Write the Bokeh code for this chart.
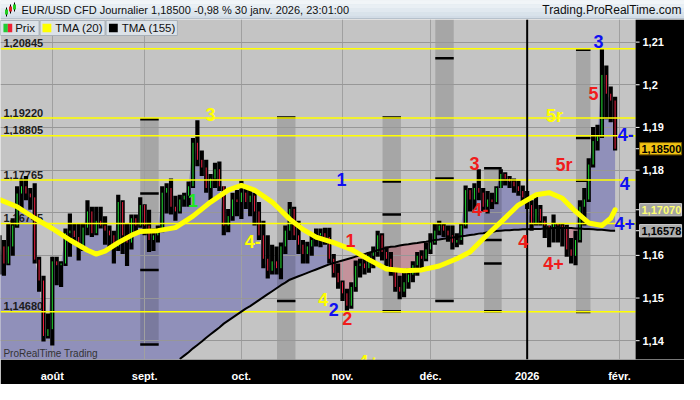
import json
from bokeh.plotting import figure
from bokeh.models import Range1d, FixedTicker, CustomJSTickFormatter
from bokeh.layouts import column
from bokeh.embed import file_html
from bokeh.resources import INLINE
from bokeh.core.properties import value

FONT = "Liberation Sans"

# ---------------- data ----------------
bar_index = list(range(-12, 129))   # 0 = 1 Aug 2025 (daily bars, weekdays)

opens = [1.1586, 1.1621, 1.1581, 1.1621, 1.1670, 1.1745, 1.1762, 1.1745, 1.1736, 1.1590, 1.1541, 1.1411, 1.1427,
         1.1586, 1.1577, 1.1581, 1.1652, 1.1658, 1.1643, 1.1621, 1.1665, 1.1703, 1.1652,
         1.1681, 1.1670, 1.1658, 1.1647, 1.1621, 1.1725, 1.1647, 1.1630, 1.1687, 1.1670,
         1.1718, 1.1670, 1.1636, 1.1647, 1.1658, 1.1747, 1.1758, 1.1714, 1.1703, 1.1731,
         1.1740, 1.1762, 1.1864, 1.1824, 1.1806, 1.1758, 1.1780, 1.1802, 1.1762, 1.1670,
         1.1692, 1.1731, 1.1725, 1.1747, 1.1725, 1.1740, 1.1703, 1.1647, 1.1592, 1.1564,
         1.1586, 1.1570, 1.1621, 1.1658, 1.1709, 1.1647, 1.1625, 1.1603, 1.1621, 1.1636,
         1.1647, 1.1652, 1.1643, 1.1592, 1.1559, 1.1537, 1.1511, 1.1482, 1.1526, 1.1575,
         1.1581, 1.1570, 1.1599, 1.1608, 1.1647, 1.1608, 1.1592, 1.1564, 1.1526, 1.1515,
         1.1537, 1.1555, 1.1577, 1.1599, 1.1592, 1.1614, 1.1630, 1.1658, 1.1670, 1.1658,
         1.1647, 1.1630, 1.1636, 1.1670, 1.1753, 1.1731, 1.1758, 1.1747, 1.1714, 1.1731,
         1.1725, 1.1758, 1.1791, 1.1780, 1.1773, 1.1762, 1.1751, 1.1736, 1.1718, 1.1674,
         1.1709, 1.1681, 1.1670, 1.1665, 1.1674, 1.1670, 1.1667, 1.1614, 1.1599, 1.1636,
         1.1714, 1.1731, 1.1813, 1.1868, 1.1879, 1.2023, 1.1979, 1.1963]

highs = [1.1647, 1.1636, 1.1674, 1.1687, 1.1762, 1.1780, 1.1786, 1.1758, 1.1769, 1.1597, 1.1552, 1.1464, 1.1597,
         1.1597, 1.1586, 1.1663, 1.1698, 1.1674, 1.1674, 1.1676, 1.1729, 1.1714, 1.1714,
         1.1714, 1.1692, 1.1670, 1.1658, 1.1742, 1.1729, 1.1676, 1.1696, 1.1696, 1.1736,
         1.1720, 1.1707, 1.1663, 1.1670, 1.1762, 1.1769, 1.1780, 1.1740, 1.1742, 1.1747,
         1.1773, 1.1875, 1.1917, 1.1846, 1.1824, 1.1791, 1.1817, 1.1820, 1.1762, 1.1709,
         1.1747, 1.1753, 1.1775, 1.1758, 1.1758, 1.1747, 1.1725, 1.1681, 1.1647, 1.1625,
         1.1621, 1.1630, 1.1670, 1.1725, 1.1714, 1.1681, 1.1636, 1.1632, 1.1652, 1.1663,
         1.1663, 1.1665, 1.1665, 1.1603, 1.1581, 1.1541, 1.1522, 1.1537, 1.1588, 1.1592,
         1.1597, 1.1608, 1.1621, 1.1658, 1.1652, 1.1621, 1.1608, 1.1570, 1.1552, 1.1559,
         1.1570, 1.1586, 1.1608, 1.1612, 1.1630, 1.1652, 1.1674, 1.1681, 1.1676, 1.1670,
         1.1670, 1.1652, 1.1674, 1.1764, 1.1758, 1.1769, 1.1802, 1.1758, 1.1751, 1.1747,
         1.1762, 1.1802, 1.1795, 1.1786, 1.1780, 1.1775, 1.1764, 1.1751, 1.1729, 1.1740,
         1.1718, 1.1692, 1.1670, 1.1696, 1.1676, 1.1676, 1.1672, 1.1641, 1.1658, 1.1729,
         1.1758, 1.1828, 1.1901, 1.1906, 1.2084, 1.2045, 1.1996, 1.1972]

lows = [1.1555, 1.1552, 1.1577, 1.1599, 1.1665, 1.1709, 1.1729, 1.1707, 1.1581, 1.1515, 1.1398, 1.1405, 1.1389,
        1.1530, 1.1526, 1.1575, 1.1597, 1.1632, 1.1588, 1.1610, 1.1647, 1.1643, 1.1647,
        1.1663, 1.1625, 1.1619, 1.1581, 1.1610, 1.1603, 1.1575, 1.1614, 1.1652, 1.1665,
        1.1647, 1.1608, 1.1610, 1.1630, 1.1654, 1.1698, 1.1696, 1.1681, 1.1698, 1.1714,
        1.1714, 1.1758, 1.1809, 1.1786, 1.1747, 1.1729, 1.1758, 1.1751, 1.1647, 1.1654,
        1.1681, 1.1692, 1.1685, 1.1709, 1.1692, 1.1670, 1.1636, 1.1570, 1.1546, 1.1555,
        1.1555, 1.1544, 1.1603, 1.1636, 1.1636, 1.1603, 1.1581, 1.1581, 1.1599, 1.1621,
        1.1619, 1.1625, 1.1581, 1.1548, 1.1522, 1.1493, 1.1471, 1.1475, 1.1515, 1.1548,
        1.1555, 1.1559, 1.1570, 1.1597, 1.1588, 1.1575, 1.1552, 1.1515, 1.1497, 1.1502,
        1.1522, 1.1537, 1.1552, 1.1566, 1.1586, 1.1603, 1.1625, 1.1647, 1.1643, 1.1632,
        1.1614, 1.1619, 1.1625, 1.1663, 1.1703, 1.1707, 1.1729, 1.1703, 1.1698, 1.1709,
        1.1720, 1.1758, 1.1764, 1.1758, 1.1747, 1.1740, 1.1725, 1.1709, 1.1658, 1.1670,
        1.1670, 1.1641, 1.1619, 1.1630, 1.1630, 1.1621, 1.1597, 1.1581, 1.1577, 1.1630,
        1.1670, 1.1725, 1.1806, 1.1846, 1.1875, 1.1919, 1.1912, 1.1846]

closes = [1.1621, 1.1581, 1.1621, 1.1670, 1.1745, 1.1762, 1.1745, 1.1736, 1.1590, 1.1541, 1.1411, 1.1427, 1.1586,
          1.1577, 1.1581, 1.1652, 1.1658, 1.1643, 1.1621, 1.1665, 1.1703, 1.1652, 1.1681,
          1.1670, 1.1658, 1.1647, 1.1621, 1.1725, 1.1647, 1.1630, 1.1687, 1.1670, 1.1718,
          1.1670, 1.1636, 1.1647, 1.1658, 1.1747, 1.1758, 1.1714, 1.1703, 1.1731, 1.1740,
          1.1762, 1.1864, 1.1824, 1.1806, 1.1758, 1.1780, 1.1802, 1.1762, 1.1670, 1.1692,
          1.1731, 1.1725, 1.1747, 1.1725, 1.1740, 1.1703, 1.1647, 1.1592, 1.1564, 1.1586,
          1.1570, 1.1621, 1.1658, 1.1709, 1.1647, 1.1625, 1.1603, 1.1621, 1.1636, 1.1647,
          1.1652, 1.1643, 1.1592, 1.1559, 1.1537, 1.1511, 1.1482, 1.1526, 1.1575, 1.1581,
          1.1570, 1.1599, 1.1608, 1.1647, 1.1608, 1.1592, 1.1564, 1.1526, 1.1515, 1.1537,
          1.1555, 1.1577, 1.1599, 1.1592, 1.1614, 1.1630, 1.1658, 1.1670, 1.1658, 1.1647,
          1.1630, 1.1636, 1.1670, 1.1753, 1.1731, 1.1758, 1.1747, 1.1714, 1.1731, 1.1725,
          1.1758, 1.1791, 1.1780, 1.1773, 1.1762, 1.1751, 1.1736, 1.1718, 1.1674, 1.1709,
          1.1681, 1.1670, 1.1665, 1.1674, 1.1670, 1.1667, 1.1614, 1.1599, 1.1636, 1.1714,
          1.1731, 1.1813, 1.1868, 1.1879, 1.2023, 1.1979, 1.1963, 1.1850]

# TMA(155): below the visible area before bar 29
tma155 = [None] * 41 + [
    1.1357, 1.1365, 1.1373, 1.1382, 1.1390, 1.1398, 1.1407, 1.1415, 1.1423, 1.1431, 1.1440,
    1.1447, 1.1454, 1.1461, 1.1468, 1.1475, 1.1481, 1.1488, 1.1495, 1.1502, 1.1509,
    1.1516, 1.1523, 1.1530, 1.1536, 1.1543, 1.1547, 1.1551, 1.1555, 1.1559, 1.1563,
    1.1567, 1.1571, 1.1575, 1.1579, 1.1582, 1.1585, 1.1588, 1.1591, 1.1594, 1.1597,
    1.1600, 1.1603, 1.1606, 1.1609, 1.1612, 1.1615, 1.1618, 1.1620, 1.1621, 1.1623,
    1.1625, 1.1626, 1.1628, 1.1629, 1.1631, 1.1632, 1.1634, 1.1636, 1.1637, 1.1639,
    1.1640, 1.1642, 1.1643, 1.1645, 1.1646, 1.1648, 1.1649, 1.1651, 1.1652, 1.1654,
    1.1655, 1.1657, 1.1658, 1.1659, 1.1659, 1.1660, 1.1660, 1.1661, 1.1661, 1.1662,
    1.1662, 1.1662, 1.1663, 1.1663, 1.1664, 1.1664, 1.1664, 1.1664, 1.1664, 1.1663,
    1.1663, 1.1662, 1.1662, 1.1661, 1.1660, 1.1660, 1.1659, 1.1658, 1.1658]

tma20_index = [-12, -8, -4, 0, 4, 8, 10, 12, 15, 18, 20, 24, 28, 32, 36, 40, 43, 46, 50, 54, 57, 60,
               64, 68, 72, 76, 80, 84, 88, 92, 95, 98, 102, 106, 110, 113, 116, 119, 122, 125, 127, 128]
tma20 = [1.1731, 1.1714, 1.1687, 1.1663, 1.1636, 1.1612, 1.1603, 1.1610, 1.1630, 1.1647, 1.1656, 1.1658,
         1.1665, 1.1692, 1.1725, 1.1753, 1.1764, 1.1753, 1.1725, 1.1685, 1.1661, 1.1643, 1.1630, 1.1614,
         1.1590, 1.1568, 1.1564, 1.1566, 1.1575, 1.1592, 1.1608, 1.1639, 1.1678, 1.1718, 1.1742, 1.1747,
         1.1734, 1.1703, 1.1676, 1.1670, 1.1687, 1.1707]

levels = [1.20845, 1.19220, 1.18805, 1.17765, 1.16745, 1.14680]
level_labels = ["1,20845", "1,19220", "1,18805", "1,17765", "1,16745", "1,14680"]

band_left = [20.0, 51.1, 75.1, 87.1, 98.2, 119.1]
band_right = [24.2, 55.3, 79.3, 91.3, 102.2, 122.4]
band_top = [1.1919, 1.1923, 1.1923, 1.2153, 1.1804, 1.2082]
band_bottom = [1.1391, 1.1300, 1.1469, 1.1493, 1.1469, 1.1467]
dash_band = [0, 0, 0, 0, 0, 1, 1, 2, 2, 2, 2, 3, 3, 3, 4, 4, 4, 4, 5, 5, 5, 5]
dash_level = [1.1919, 1.1745, 1.1658, 1.1566, 1.1391,
              1.1923, 1.1493,
              1.1923, 1.1773, 1.1696, 1.1469,
              1.2062, 1.1780, 1.1493,
              1.1804, 1.1636, 1.1581, 1.1469,
              1.2082, 1.1875, 1.1775, 1.1467]

month_ticks = [0, 21, 43, 66, 86, 108, 129]
month_labels = ["août", "sept.", "oct.", "nov.", "déc.", "2026", "févr."]
year_line = [108]
price_ticks = [1.14, 1.15, 1.16, 1.18, 1.19, 1.20, 1.21]
price_tick_labels = ["1,14", "1,15", "1,16", "1,18", "1,19", "1,2", "1,21"]
grid_prices = [1.14, 1.15, 1.16, 1.17, 1.18, 1.19, 1.20, 1.21]

mark_text = ["3", "1", "4-", "1", "1", "4", "2", "2", "4+", "3", "4-", "4", "5r", "4+",
             "5r", "5", "3", "4-", "4", "4+"]
mark_x = [36.0, 32.0, 45.6, 65.8, 67.8, 61.6, 64.0, 67.1, 72.0, 96.0, 97.3, 107.1, 116.4, 114.0,
          114.2, 123.1, 124.2, 130.4, 130.2, 130.2]
mark_y = [1.1930, 1.1729, 1.1632, 1.1778, 1.1636, 1.1497, 1.1473, 1.1453, 1.1352, 1.1815, 1.1707,
          1.1632, 1.1813, 1.1581, 1.1926, 1.1979, 1.2102, 1.1883, 1.1769, 1.1674]
YEL, GRN, BLU, RED = "#ffff00", "#22e622", "#1010f0", "#f01c1c"
mark_color = [YEL, GRN, YEL, BLU, RED, YEL, BLU, RED, YEL, RED, RED, RED, RED, RED,
              YEL, RED, BLU, BLU, BLU, BLU]

box_values = [1.18500, 1.17070, 1.16578]
box_texts = ["1,18500", "1,17070", "1,16578"]
box_bg = ["#f2c414", "#a2a2a2", "#acacac"]
box_line = ["#7a5c00", "#d0d0d0", "#d0d0d0"]
box_fg = ["#000000", "#ffff70", "#000000"]

title_text = "EUR/USD CFD Journalier 1,18500 -0,98 % 30 janv. 2026, 23:01:00"
site_text = "Trading.ProRealTime.com"

# ---------------- layout helpers ----------------
# reference pixel geometry of the plotting frame: x 0..650 (price area), 650..700 (price scale)
X0, X1 = -11.78, 132.67
Y0, Y1 = 1.13559, 1.21530
REF_W, REF_H, REF_TOP = 650.0, 361.0, 21.0
XR = X0 + 700.0 * (X1 - X0) / REF_W


def fx(px):
    return X0 + px * (X1 - X0) / REF_W


def fy(py):
    return Y1 - (py - REF_TOP) * (Y1 - Y0) / REF_H


DP = (Y1 - Y0) / REF_H

n = min(len(bar_index), len(opens), len(highs), len(lows), len(closes), len(tma155))
bar_index, opens, highs, lows, closes, tma155 = (bar_index[:n], opens[:n], highs[:n], lows[:n],
                                                 closes[:n], tma155[:n])

# ---------------- title bar ----------------
t = figure(width=684, height=19, x_range=Range1d(0, 684), y_range=Range1d(0, 19),
           toolbar_location=None, output_backend="svg", x_axis_location=None,
           y_axis_location=None, min_border=0, outline_line_color=None,
           background_fill_color="#dde6ee", border_fill_color="#dde6ee")
t.grid.visible = False
grad = ["#f1f5f8", "#e9eff4", "#e1e9f0", "#d9e3eb", "#d2dce6"]
for k, c in enumerate(grad):
    t.quad(left=0, right=684, top=19 - k * 3.8, bottom=19 - (k + 1) * 3.8, fill_color=c, line_color=None)
t.segment(x0=0, x1=684, y0=0.5, y1=0.5, line_color="#9aa6b2", line_width=1)
t.segment(x0=[6, 10, 14], x1=[6, 10, 14], y0=[3, 6, 8], y1=[12, 15, 17], line_color="black", line_width=1)
t.segment(x0=[6, 10, 14], x1=[6, 10, 14], y0=[5, 8, 10], y1=[10, 13, 15],
          line_color=["#22cc22", "#dd2222", "#22cc22"], line_width=3)
t.text(x=[21], y=[9.5], text=[title_text], text_font=value(FONT), text_font_size="11px",
       text_baseline="middle", text_align="left", text_color="#101010")
t.text(x=[681], y=[9.5], text=[site_text], text_font=value(FONT), text_font_size="12px",
       text_baseline="middle", text_align="right", text_color="#101010")

# ---------------- main chart ----------------
p = figure(width=684, height=365, x_range=Range1d(X0, XR), y_range=Range1d(Y0, Y1),
           y_axis_location=None, toolbar_location=None, output_backend="svg",
           min_border_left=0, min_border_top=0, min_border_right=0, min_border_bottom=18,
           background_fill_color="#c4c4c4", border_fill_color="black", outline_line_color=None)

p.xgrid.ticker = FixedTicker(ticks=month_ticks)
p.ygrid.ticker = FixedTicker(ticks=grid_prices)
p.xgrid.grid_line_color = "#a0a0a0"
p.ygrid.grid_line_color = "#979797"

p.xaxis.ticker = FixedTicker(ticks=month_ticks)
p.xaxis.formatter = CustomJSTickFormatter(
    code="const t = %s; const l = %s; const k = t.indexOf(Math.round(tick)); return k >= 0 ? l[k] : '';"
    % (json.dumps(month_ticks), json.dumps(month_labels)))
p.xaxis.axis_line_color = None
p.xaxis.minor_tick_line_color = None
p.xaxis.major_tick_line_color = None
p.xaxis.major_label_text_color = "white"
p.xaxis.major_label_text_font = FONT
p.xaxis.major_label_text_font_style = "bold"
p.xaxis.major_label_text_font_size = "11px"
p.xaxis.major_label_standoff = 4

# fill between close and TMA(155)
base = [b if b is not None else Y0 for b in tma155]
up = [max(c, b) for c, b in zip(closes, base)]
dn = [min(c, b) for c, b in zip(closes, base)]
p.varea(x=bar_index, y1=base, y2=up, fill_color="#9090ba", level="image")
p.varea(x=bar_index, y1=dn, y2=base, fill_color="#c4929b", level="image")

# cycle bands
p.quad(left=band_left, right=band_right, top=band_top, bottom=band_bottom,
       fill_color="black", fill_alpha=0.15, line_color=None, level="underlay")

# level labels (under candles)
p.text(x=[fx(3)] * len(levels), y=[lv + 1.5 * DP for lv in levels], text=level_labels,
       text_font=value(FONT), text_font_size="11px", text_font_style="bold",
       text_color="#1c1c1c", text_baseline="bottom", text_align="left")

# band dashes
p.segment(x0=[band_left[b] for b in dash_band], x1=[band_right[b] for b in dash_band],
          y0=dash_level, y1=dash_level, line_color="black", line_width=2.5)

# candles
body_colors = ["#22dd33" if c >= o else "#ee2040" for o, c in zip(opens, closes)]
p.segment(x0=bar_index, x1=bar_index, y0=lows, y1=highs, line_color="black", line_width=4.2)
p.segment(x0=bar_index, x1=bar_index, y0=opens, y1=closes, line_color=body_colors, line_width=1)

# horizontal levels and year line
p.segment(x0=[X0] * len(levels), x1=[X1] * len(levels), y0=levels, y1=levels,
          line_color="#ffff00", line_width=1.5)
p.segment(x0=year_line, x1=year_line, y0=[Y0], y1=[Y1], line_color="black", line_width=2)

# moving averages
tx = [i for i, v in zip(bar_index, tma155) if v is not None]
ty = [v for v in tma155 if v is not None]
p.line(tx, ty, line_color="black", line_width=2)
p.line(tma20_index, tma20, line_color="#ffff00", line_width=5, line_join="round", line_cap="round")

# wave marks
p.text(x=mark_x, y=mark_y, text=mark_text, text_color=mark_color, text_font=value(FONT),
       text_font_size="18px", text_font_style="bold", text_align="center", text_baseline="middle")

# watermark
p.text(x=[fx(3)], y=[fy(376)], text=["ProRealTime Trading"], text_font=value(FONT),
       text_font_size="10px", text_color="#333333", text_baseline="middle", text_align="left")

# legend
leg_l = [0, 40.5, 108]
leg_r = [39.5, 107, 181]
p.quad(left=[fx(v) for v in leg_l], right=[fx(v) for v in leg_r], top=fy(22), bottom=fy(38),
       fill_color="#dce2e8", line_color="#a8b0b8", line_width=1)
sw_l = [3, 7.5, 43, 111]
sw_r = [7.5, 12, 52, 120]
sw_c = ["#22cc33", "#ee2233", "#ffff00", "#000000"]
p.quad(left=[fx(v) for v in sw_l], right=[fx(v) for v in sw_r], top=fy(25.5), bottom=fy(34.5),
       fill_color=sw_c, line_color=None)
p.text(x=[fx(15), fx(56), fx(124)], y=[fy(30.5)] * 3, text=["Prix", "TMA (20)", "TMA (155)"],
       text_font=value(FONT), text_font_size="11.5px", text_color="#111111",
       text_baseline="middle", text_align="left")

# price scale (right side)
p.quad(left=fx(650), right=XR, top=Y1, bottom=Y0, fill_color="black", line_color=None)
tick_all = price_ticks + box_values
p.segment(x0=[fx(650)] * len(tick_all), x1=[fx(654)] * len(tick_all), y0=tick_all, y1=tick_all,
          line_color="white", line_width=1)
p.text(x=[fx(657)] * len(price_ticks), y=price_ticks, text=price_tick_labels,
       text_font=value(FONT), text_font_size="11px", text_font_style="bold",
       text_color="white", text_baseline="middle", text_align="left")
p.quad(left=fx(654), right=fx(697), top=[v + 6.5 * DP for v in box_values],
       bottom=[v - 6.5 * DP for v in box_values], fill_color=box_bg, line_color=box_line, line_width=1)
p.text(x=[fx(656)] * len(box_values), y=box_values, text=box_texts, text_color=box_fg,
       text_font=value(FONT), text_font_size="11px", text_font_style="bold",
       text_baseline="middle", text_align="left")

page = column(t, p, spacing=0)
open("out.html", "w").write(file_html(page, INLINE))
